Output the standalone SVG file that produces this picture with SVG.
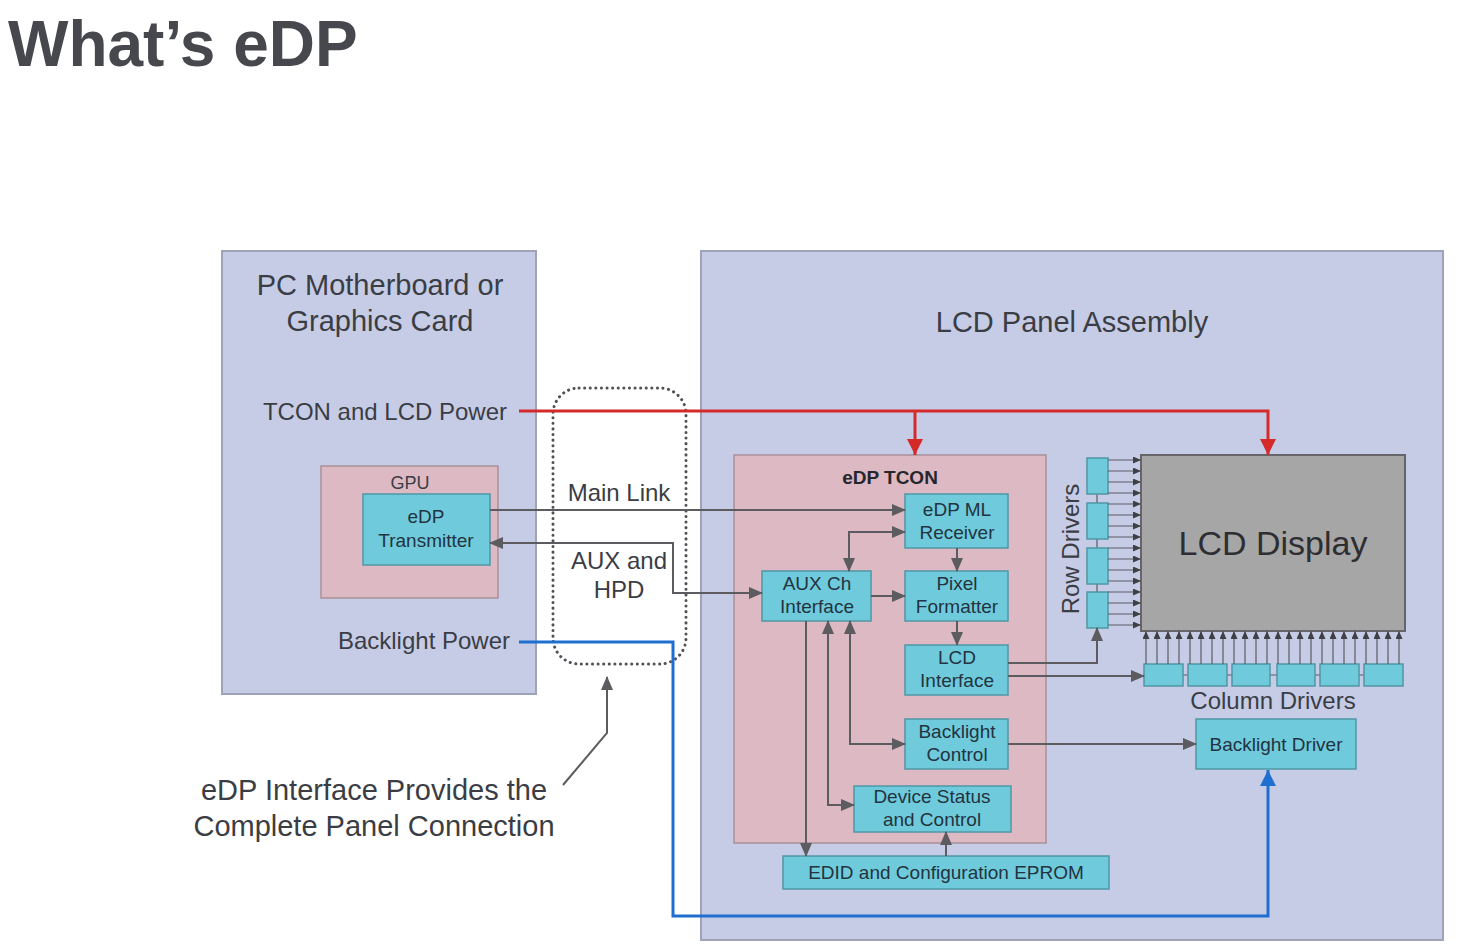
<svg xmlns="http://www.w3.org/2000/svg" width="1466" height="949" viewBox="0 0 1466 949">
<style>
text{font-family:"Liberation Sans",Arial,sans-serif;fill:#3b3d45}
.panel{fill:#c6cce6;stroke:#9ea3ba;stroke-width:2}
.pink{fill:#dcb9c3;stroke:#a9919a;stroke-width:1.5}
.cyan{fill:#6fcbdc;stroke:#4f97a6;stroke-width:1.5}
.nt{font-size:19px;text-anchor:middle;fill:#233340}
.lbl{font-size:24px}
.big{font-size:29px;text-anchor:middle}
.c{fill:none;stroke:#5b5b60;stroke-width:2}
.thin{fill:none;stroke:#5b5b60;stroke-width:1.2}
</style>
<defs>
<marker id="ag" markerUnits="userSpaceOnUse" markerWidth="14" markerHeight="12" refX="13" refY="6" orient="auto-start-reverse" viewBox="0 0 14 12"><path d="M0,0 L14,6 L0,12 z" fill="#5b5b60"/></marker>
<marker id="as" markerUnits="userSpaceOnUse" markerWidth="8" markerHeight="7" refX="8" refY="3.5" orient="auto" viewBox="0 0 8 7"><path d="M0,0 L8,3.5 L0,7 z" fill="#3f3f45"/></marker>
<marker id="ar" markerUnits="userSpaceOnUse" markerWidth="16" markerHeight="16" refX="16" refY="8" orient="auto" viewBox="0 0 16 16"><path d="M0,0 L16,8 L0,16 z" fill="#d42a2a"/></marker>
<marker id="ab" markerUnits="userSpaceOnUse" markerWidth="16" markerHeight="16" refX="16" refY="8" orient="auto" viewBox="0 0 16 16"><path d="M0,0 L16,8 L0,16 z" fill="#1f6fd1"/></marker>
</defs>
<rect width="1466" height="949" fill="#ffffff"/>
<text x="8" y="66" style="font-size:64px;font-weight:bold;fill:#47484e">What’s eDP</text>

<g id="pc-motherboard">
<rect class="panel" x="222" y="251" width="314" height="443"/>
<text class="big" x="380" y="295">PC Motherboard or</text>
<text class="big" x="380" y="331">Graphics Card</text>
<text class="lbl" x="507" y="420" text-anchor="end">TCON and LCD Power</text>
<text class="lbl" x="510" y="649" text-anchor="end">Backlight Power</text>
</g>
<g id="lcd-panel-assembly">
<rect class="panel" x="701" y="251" width="742" height="689"/>
<text class="big" x="1072" y="332">LCD Panel Assembly</text>
</g>
<g id="gpu">
<rect class="pink" x="321" y="466" width="177" height="132"/>
<text class="nt" x="410" y="489" style="font-size:18px;fill:#3b3d45">GPU</text>
</g>
<g id="edp-transmitter">
<rect class="cyan" x="363" y="494" width="127" height="71"/>
<text class="nt" x="426" y="523">eDP</text>
<text class="nt" x="426" y="547">Transmitter</text>
</g>
<g id="edp-interface">
<rect x="553" y="388" width="133" height="276" rx="26" fill="none" stroke="#505056" stroke-width="3" stroke-dasharray="0.1,5.5" stroke-linecap="round"/>
<text class="lbl" x="619" y="501" text-anchor="middle">Main Link</text>
<text class="lbl" x="619" y="569" text-anchor="middle">AUX and</text>
<text class="lbl" x="619" y="598" text-anchor="middle">HPD</text>
</g>
<g id="edp-tcon">
<rect class="pink" x="734" y="455" width="312" height="388"/>
<text x="890" y="484" style="font-size:19px;font-weight:bold;text-anchor:middle;fill:#26272c">eDP TCON</text>
</g>
<g id="edp-ml-receiver">
<rect class="cyan" x="905" y="494" width="103" height="54"/>
<text class="nt" x="957" y="516">eDP ML</text>
<text class="nt" x="957" y="539">Receiver</text>
</g>
<g id="aux-ch-interface">
<rect class="cyan" x="762" y="571" width="109" height="50"/>
<text class="nt" x="817" y="590">AUX Ch</text>
<text class="nt" x="817" y="613">Interface</text>
</g>
<g id="pixel-formatter">
<rect class="cyan" x="905" y="571" width="103" height="50"/>
<text class="nt" x="957" y="590">Pixel</text>
<text class="nt" x="957" y="613">Formatter</text>
</g>
<g id="lcd-interface">
<rect class="cyan" x="905" y="645" width="103" height="50"/>
<text class="nt" x="957" y="664">LCD</text>
<text class="nt" x="957" y="687">Interface</text>
</g>
<g id="backlight-control">
<rect class="cyan" x="905" y="719" width="103" height="50"/>
<text class="nt" x="957" y="738">Backlight</text>
<text class="nt" x="957" y="761">Control</text>
</g>
<g id="device-status">
<rect class="cyan" x="854" y="786" width="157" height="46"/>
<text class="nt" x="932" y="803">Device Status</text>
<text class="nt" x="932" y="826">and Control</text>
</g>
<g id="edid-eprom">
<rect class="cyan" x="783" y="856" width="326" height="33"/>
<text class="nt" x="946" y="879">EDID and Configuration EPROM</text>
</g>
<g id="row-drivers">
<path class="thin" d="M1097,494 V503 M1097,539 V548 M1097,584 V592"/>
<rect class="cyan" x="1087" y="458" width="21" height="36"/>
<rect class="cyan" x="1087" y="503" width="21" height="36"/>
<rect class="cyan" x="1087" y="548" width="21" height="36"/>
<rect class="cyan" x="1087" y="592" width="21" height="36"/>
<text class="lbl" transform="translate(1079,549) rotate(-90)" text-anchor="middle">Row Drivers</text>
</g>
<g id="lcd-display">
<rect x="1141" y="455" width="264" height="176" fill="#a6a6a6" stroke="#66666a" stroke-width="2"/>
<text x="1273" y="555" style="font-size:34px;text-anchor:middle;fill:#2e2e32">LCD Display</text>
</g>
<g id="column-drivers">
<path class="thin" d="M1183,675 H1188 M1227,675 H1232 M1270,675 H1277 M1315,675 H1320 M1359,675 H1364"/>
<rect class="cyan" x="1144" y="664" width="39" height="22"/>
<rect class="cyan" x="1188" y="664" width="39" height="22"/>
<rect class="cyan" x="1232" y="664" width="38" height="22"/>
<rect class="cyan" x="1277" y="664" width="38" height="22"/>
<rect class="cyan" x="1320" y="664" width="39" height="22"/>
<rect class="cyan" x="1364" y="664" width="39" height="22"/>
<text class="lbl" x="1273" y="709" text-anchor="middle">Column Drivers</text>
</g>
<g id="backlight-driver">
<rect class="cyan" x="1196" y="719" width="160" height="50"/>
<text class="nt" x="1276" y="751">Backlight Driver</text>
</g>
<g id="annotation">
<text x="374" y="800" style="font-size:29px;text-anchor:middle">eDP Interface Provides the</text>
<text x="374" y="836" style="font-size:29px;text-anchor:middle">Complete Panel Connection</text>
</g>

<g id="connectors">
<path d="M519,411 H1268 V455" fill="none" stroke="#d42a2a" stroke-width="3" marker-end="url(#ar)"/>
<path d="M915,411 V455" fill="none" stroke="#d42a2a" stroke-width="3" marker-end="url(#ar)"/>
<path d="M519,642 H673 V916 H1268 V770" fill="none" stroke="#1f6fd1" stroke-width="3" marker-end="url(#ab)"/>
<path class="c" d="M490,510 H905" marker-end="url(#ag)"/>
<path class="c" d="M490,543 H673 V593 H762" marker-start="url(#ag)" marker-end="url(#ag)"/>
<path class="c" d="M849,571 V532 H905" marker-start="url(#ag)" marker-end="url(#ag)"/>
<path class="c" d="M871,596 H905" marker-end="url(#ag)"/>
<path class="c" d="M957,548 V571" marker-end="url(#ag)"/>
<path class="c" d="M957,621 V645" marker-end="url(#ag)"/>
<path class="c" d="M1008,663 H1097 V628" marker-end="url(#ag)"/>
<path class="c" d="M1008,676 H1144" marker-end="url(#ag)"/>
<path class="c" d="M806,621 V856" marker-end="url(#ag)"/>
<path class="c" d="M828,621 V805 H854" marker-start="url(#ag)" marker-end="url(#ag)"/>
<path class="c" d="M850,621 V744 H905" marker-start="url(#ag)" marker-end="url(#ag)"/>
<path class="c" d="M946,856 V832" marker-end="url(#ag)"/>
<path class="c" d="M1008,744 H1196" marker-end="url(#ag)"/>
<path class="c" d="M563,785 L607,733 V677" marker-end="url(#ag)"/>
<g class="thin" marker-end="url(#as)">
<path d="M1108,460 H1141"/><path d="M1108,471 H1141"/><path d="M1108,482 H1141"/><path d="M1108,493 H1141"/>
<path d="M1108,504 H1141"/><path d="M1108,515 H1141"/><path d="M1108,526 H1141"/><path d="M1108,537 H1141"/>
<path d="M1108,548 H1141"/><path d="M1108,559 H1141"/><path d="M1108,570 H1141"/><path d="M1108,581 H1141"/>
<path d="M1108,592 H1141"/><path d="M1108,603 H1141"/><path d="M1108,614 H1141"/><path d="M1108,625 H1141"/>
</g>
<g class="thin" marker-end="url(#as)">
<path d="M1146,664 V631"/><path d="M1157,664 V631"/><path d="M1168,664 V631"/><path d="M1179,664 V631"/>
<path d="M1190,664 V631"/><path d="M1201,664 V631"/><path d="M1212,664 V631"/><path d="M1223,664 V631"/>
<path d="M1234,664 V631"/><path d="M1245,664 V631"/><path d="M1256,664 V631"/><path d="M1267,664 V631"/>
<path d="M1278,664 V631"/><path d="M1289,664 V631"/><path d="M1300,664 V631"/><path d="M1311,664 V631"/>
<path d="M1322,664 V631"/><path d="M1333,664 V631"/><path d="M1344,664 V631"/><path d="M1355,664 V631"/>
<path d="M1366,664 V631"/><path d="M1377,664 V631"/><path d="M1388,664 V631"/><path d="M1399,664 V631"/>
</g>
</g>
</svg>
